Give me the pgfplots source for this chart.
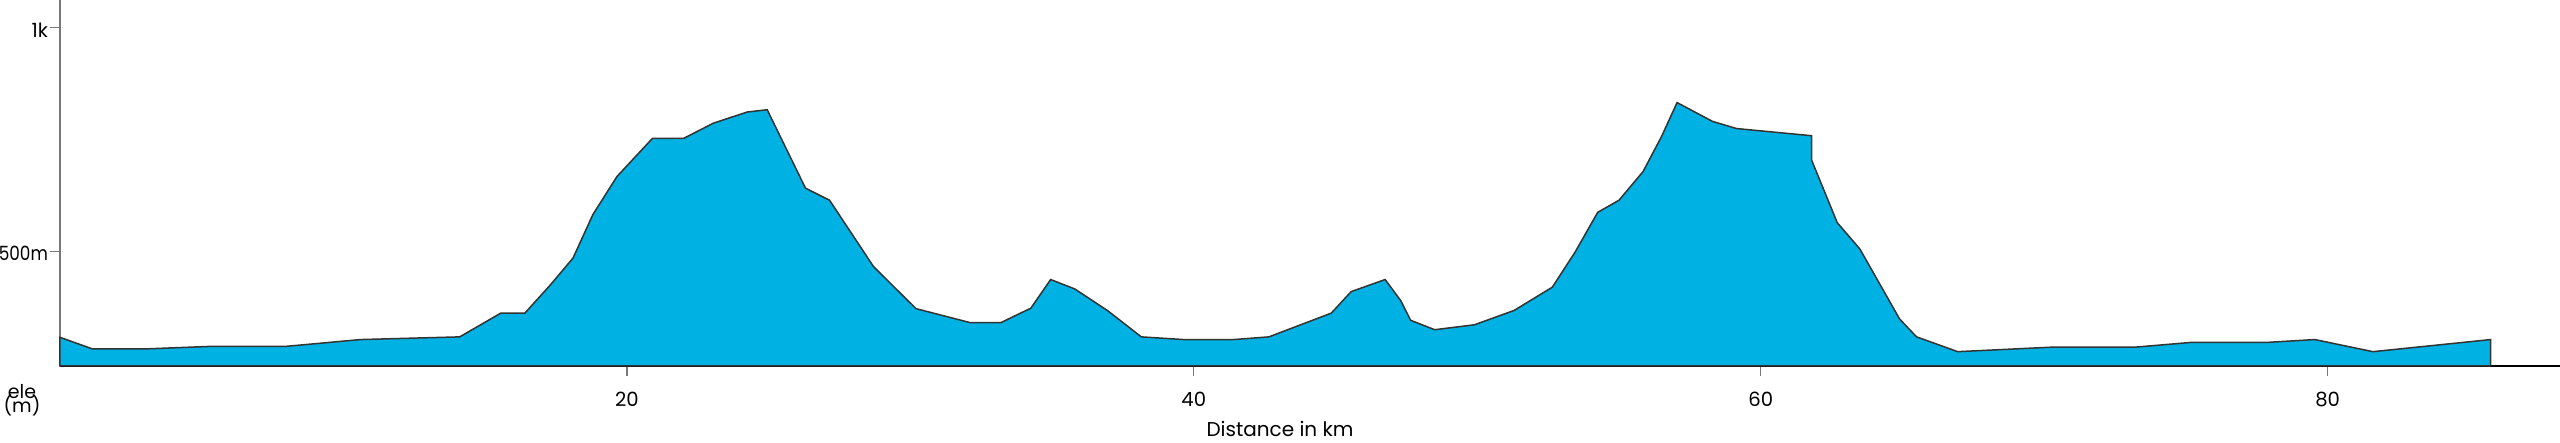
\documentclass[border=0pt]{standalone}
\usepackage{fontspec}
\setmainfont{Poppins}
\usepackage{graphicx}
\usepackage{pgfplots}
\pgfplotsset{compat=1.18}
\definecolor{fillc}{RGB}{0,178,227}
\definecolor{linec}{RGB}{51,51,51}
\definecolor{spiney}{RGB}{120,120,120}
\begin{document}
\begin{tikzpicture}
\begin{axis}[
  at={(0,0)}, anchor=south west,
  scale only axis, width=1250pt, height=183pt,
  xmin=0, xmax=88.2, ymin=245, ymax=1062,
  axis x line=bottom, axis y line=left,
  x axis line style={-, black, line width=0.8pt},
  y axis line style={-, spiney, line width=0.7pt},
  xtick={20,40,60,80}, ytick={500,1000}, yticklabels={\scalebox{0.86}[1]{500m},1k},
  tick align=outside, major tick length=5pt,
  tick style={spiney, line width=0.7pt},
  /pgf/number format/assume math mode=true,
  ticklabel style={font=\fontsize{9.8}{11}\selectfont},
  xticklabel style={anchor=base, yshift=-15.5pt},
  yticklabel style={anchor=east, xshift=2.5pt, yshift=-1pt},
  xlabel={Distance in km},
  xlabel style={at={(rel axis cs:0.488,0)}, anchor=base, yshift=-35.3pt, font=\fontsize{10}{11}\selectfont},
  clip=false,
]
\addplot[fill=fillc, draw=linec, line width=0.75pt] coordinates {
(0.0,309) (1.15,283) (2.95,283) (5.4,289) (8.0,289) (10.6,304) (14.1,310)
(15.55,363) (16.4,363) (17.3,426) (18.1,486) (18.8,583) (19.65,668) (20.15,702)
(20.9,753) (22.0,753) (23.05,787) (24.25,812) (24.95,817) (26.3,642) (27.15,615)
(28.7,467) (30.2,373) (32.1,342) (33.2,342) (34.25,374) (34.95,438) (35.8,417)
(36.95,369) (38.15,310) (39.65,304) (41.4,304) (42.65,310) (44.85,363) (45.55,411)
(46.75,438) (47.3,391) (47.65,347) (48.5,326) (49.9,337) (51.3,369) (52.65,421)
(53.45,499) (54.25,588) (55.0,615) (55.85,679) (56.5,757) (57.05,833) (58.3,791)
(59.15,775) (61.8,759) (61.8,704) (62.7,565) (63.5,506) (64.9,350) (65.5,310)
(66.95,277) (70.25,287) (73.2,287) (75.25,298) (77.95,298) (79.55,304) (81.6,277)
(85.75,304)
} \closedcycle;
\end{axis}
\node[font=\fontsize{9.5}{10}\selectfont, anchor=center, inner sep=0pt] at (-19pt,-13pt) {ele};
\node[font=\fontsize{9.5}{10}\selectfont, anchor=center, inner sep=0pt] at (-19pt,-19.5pt) {(m)};
\pgfresetboundingbox
\path[use as bounding box] (-30pt,-38.5pt) rectangle (1250pt,183pt);
\end{tikzpicture}
\end{document}
